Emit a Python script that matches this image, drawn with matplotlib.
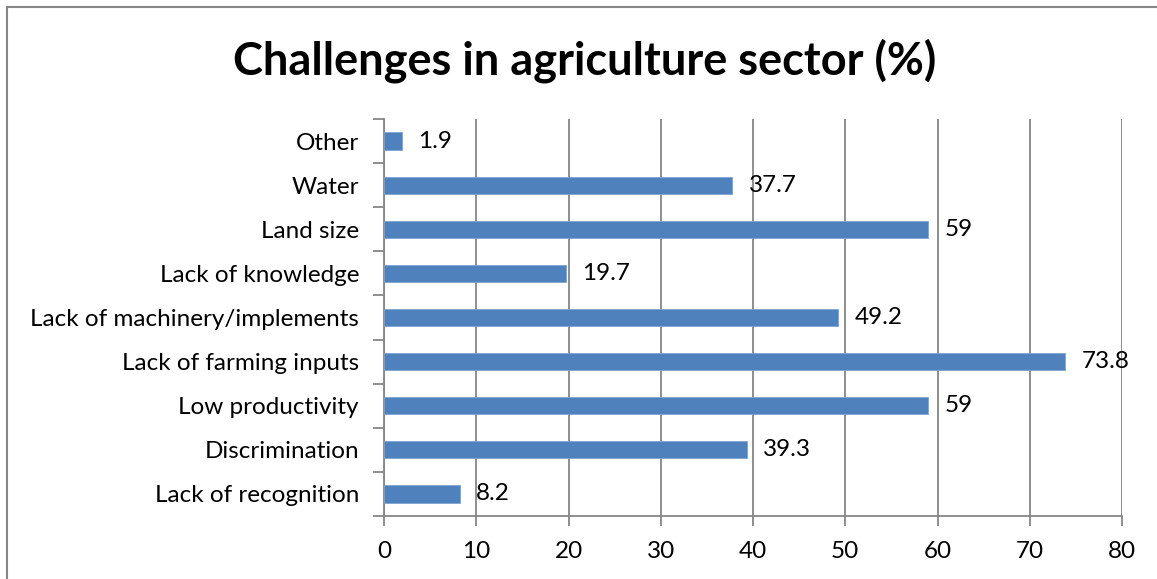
import matplotlib.pyplot as plt
from matplotlib.patches import Rectangle

categories = ["Lack of recognition", "Discrimination", "Low productivity",
              "Lack of farming inputs", "Lack of machinery/implements",
              "Lack of knowledge", "Land size", "Water", "Other"]
values = [8.2, 39.3, 59, 73.8, 49.2, 19.7, 59, 37.7, 1.9]
value_labels = ["8.2", "39.3", "59", "73.8", "49.2", "19.7", "59", "37.7", "1.9"]
xticks = [0, 10, 20, 30, 40, 50, 60, 70, 80]

plt.rcParams['font.family'] = ['Lato', 'DejaVu Sans']

W, H = 1157, 579
fig = plt.figure(figsize=(W / 100, H / 100), dpi=100)

# chart-area frame
fig.patches.append(Rectangle((7 / W, -0.05), 1.2, 1 - 7 / H + 0.05, transform=fig.transFigure,
                             fill=False, edgecolor='#868686', linewidth=1.5))

ax = fig.add_axes([384 / W, 1 - 516 / H, (1122 - 384) / W, (516 - 119) / H])

pos = list(range(len(categories)))
ax.barh(pos, values, height=0.39, color='#4F81BD', edgecolor='#7FA3D0', linewidth=0.6, zorder=3)

for p, v, lab in zip(pos, values, value_labels):
    ax.annotate(lab, (v, p), xytext=(12, 0), textcoords='offset points',
                va='center', ha='left', fontsize=17.5, zorder=4)

ax.set_xlim(0, 80)
ax.set_ylim(-0.5, len(categories) - 0.5)
ax.set_xticks(xticks)
ax.set_xticklabels([str(t) for t in xticks], fontsize=17.5)
ax.set_yticks(pos)
ax.set_yticklabels(categories, fontsize=17.5)
ax.set_yticks([p + 0.5 for p in range(-1, len(categories))], minor=True)

ax.grid(axis='x', color='#868686', linewidth=1.3, zorder=0)
ax.tick_params(axis='y', which='major', length=0, pad=18)
ax.tick_params(axis='y', which='minor', length=8, width=1.3, color='#868686')
ax.tick_params(axis='x', length=7, width=1.3, color='#868686', pad=11)

for s in ['top', 'right']:
    ax.spines[s].set_visible(False)
for s in ['left', 'bottom']:
    ax.spines[s].set_color('#868686')
    ax.spines[s].set_linewidth(1.3)

fig.text(585 / W, 1 - 61 / H, "Challenges in agriculture sector (%)", ha='center', va='center',
         fontsize=32.5, fontweight='bold')

fig.savefig("out.png", dpi=100)
